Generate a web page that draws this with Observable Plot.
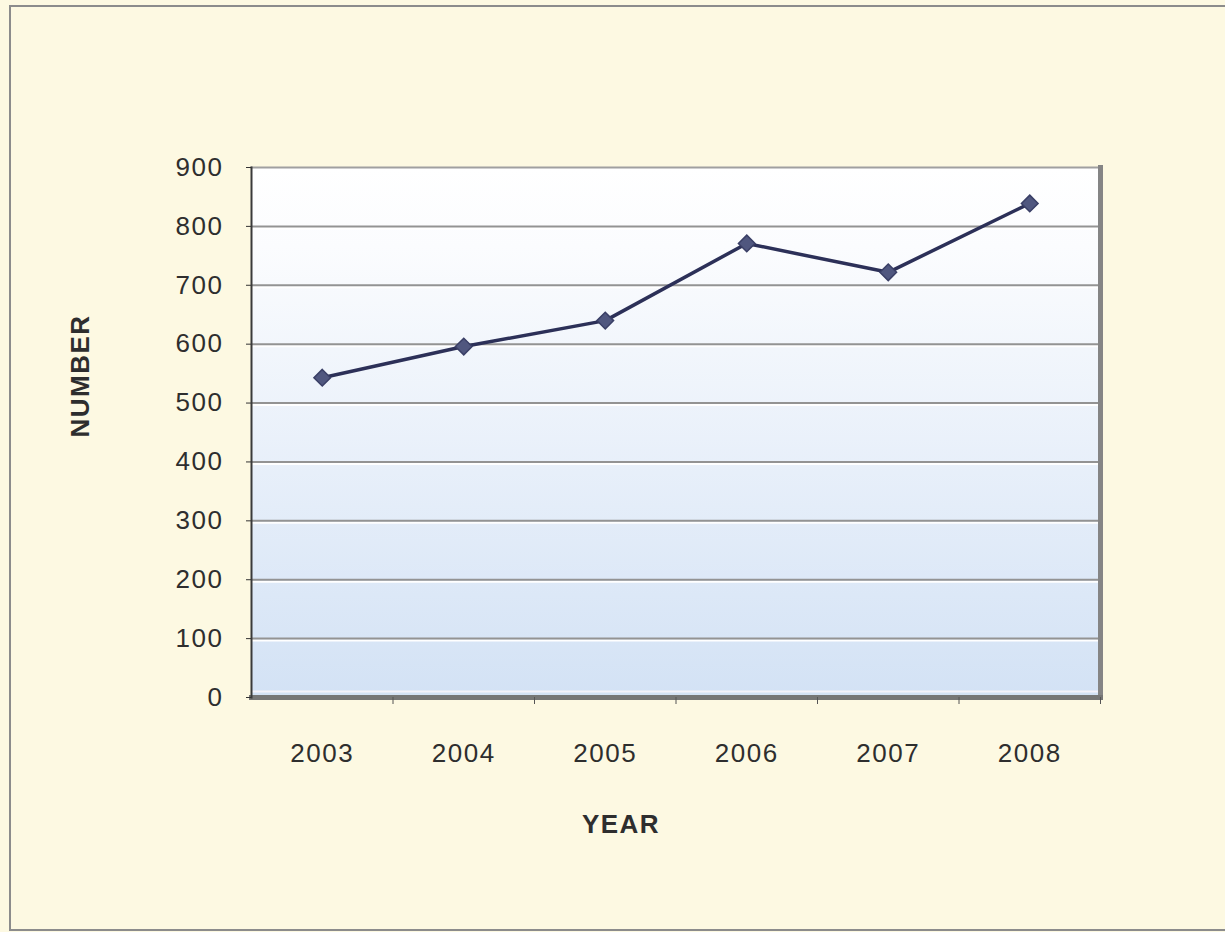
<!DOCTYPE html>
<html><head><meta charset="utf-8">
<script src="https://cdn.jsdelivr.net/npm/d3@7"></script>
<script src="https://cdn.jsdelivr.net/npm/@observablehq/plot@0.6"></script>
<style>
html,body{margin:0;padding:0;background:#fdf9e2;overflow:hidden}
#wrap{position:relative;width:1225px;height:932px}
#border{position:absolute;left:9px;top:5px;width:1240px;height:922px;border:2px solid #8c8c8c;pointer-events:none}
</style></head><body><div id="wrap"><div id="border"></div></div>
<script>
const years = [2003, 2004, 2005, 2006, 2007, 2008];
const values = [543, 596, 640, 771, 722, 839];
const yTicks = [0, 100, 200, 300, 400, 500, 600, 700, 800, 900];
const gridValues = [100, 200, 300, 400, 500, 600, 700, 800];
const xAxisLabel = "YEAR";
const yAxisLabel = "NUMBER";

const data = years.map((year, i) => ({year, value: values[i]}));
const boundaries = years.map(y => y + 0.5);

const chart = Plot.plot({
  width: 1225, height: 932,
  marginLeft: 251, marginRight: 125, marginTop: 167, marginBottom: 235,
  style: {background: "transparent", fontFamily: "'Liberation Sans', Arial, sans-serif", fontSize: "26px", color: "#2e2e2e", letterSpacing: "1.5px"},
  x: {type: "linear", domain: [years[0] - 0.5, years[years.length - 1] + 0.5]},
  y: {domain: [0, 900]},
  marks: [
    Plot.frame({fill: "url(#plotGrad)", stroke: null}),
    Plot.ruleY(gridValues, {stroke: "#ffffff", strokeWidth: 2, dy: 2}),
    Plot.ruleY(gridValues, {stroke: "#939393", strokeWidth: 2}),
    Plot.ruleY([0], {stroke: "#f4f2fa", strokeWidth: 2, dy: -6}),
    Plot.frame({anchor: "top", stroke: "#a0a0a0", strokeWidth: 2}),
    Plot.frame({anchor: "right", stroke: "#858585", strokeWidth: 5}),
    Plot.frame({anchor: "bottom", stroke: "#767676", strokeWidth: 5}),
    Plot.frame({anchor: "left", stroke: "#3a3a3a", strokeWidth: 2}),
    Plot.axisY({ticks: yTicks, tickSize: 5, tickPadding: 23, tickFormat: "d", label: null, stroke: "#333"}),
    Plot.axisX({ticks: years, tickSize: 0, tickPadding: 46, tickFormat: "d", label: null}),
    Plot.axisX({ticks: boundaries, tickSize: 7, tickFormat: () => "", label: null, stroke: "#555"}),
    Plot.line(data, {x: "year", y: "value", stroke: "#2c3058", strokeWidth: 3.5}),
    Plot.dot(data, {x: "year", y: "value", symbol: "diamond2", r: 7.5, fill: "#50577f", stroke: "#3a3f66", strokeWidth: 1.5}),
    Plot.text([yAxisLabel], {text: d => d, frameAnchor: "left", dx: -171, dy: 5, rotate: -90, fontWeight: "bold", fontSize: 26}),
    Plot.text([xAxisLabel], {text: d => d, frameAnchor: "bottom", dx: -55, dy: 135, fontWeight: "bold", fontSize: 26})
  ]
});

const ns = "http://www.w3.org/2000/svg";
const defs = document.createElementNS(ns, "defs");
defs.innerHTML = '<linearGradient id="plotGrad" x1="0" y1="0" x2="0" y2="1"><stop offset="0" stop-color="#ffffff"/><stop offset="0.15" stop-color="#fbfcfe"/><stop offset="1" stop-color="#d3e2f5"/></linearGradient>';
chart.prepend(defs);
document.getElementById("wrap").prepend(chart);
</script>
</body></html>
